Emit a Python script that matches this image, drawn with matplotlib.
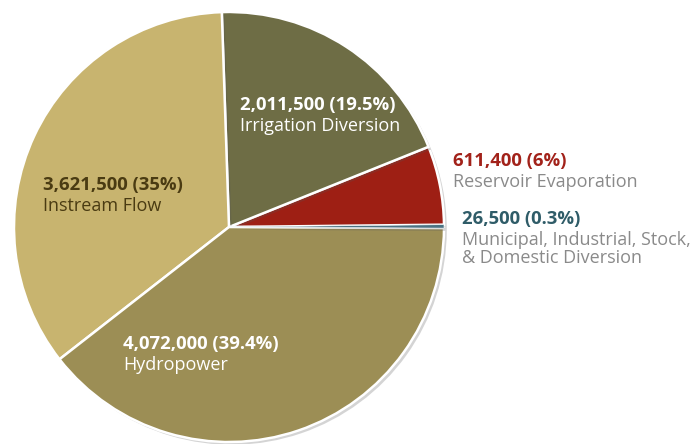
import matplotlib.pyplot as plt
import matplotlib.patheffects as pe

# water use by category, acre-feet
labels = ["Municipal, Industrial, Stock,\n& Domestic Diversion", "Reservoir Evaporation",
          "Irrigation Diversion", "Instream Flow", "Hydropower"]
values = [26500, 611400, 2011500, 3621500, 4072000]
pct_text = ["0.3%", "6%", "19.5%", "35%", "39.4%"]
colors = ["#4B7282", "#9E1F14", "#6E6D45", "#C8B46F", "#9C8E55"]

# label anchor (x, y of first line top, px) and colours for number / name
label_pos = [(462, 210), (453, 152), (240, 96), (43, 176), (123, 335)]
num_colors = ["#2F5C68", "#A2221A", "white", "#4A3B12", "white"]
name_colors = ["#8A8A8A", "#8A8A8A", "white", "#4A3B12", "white"]

W, H = 692, 444
fig = plt.figure(figsize=(W / 100, H / 100), dpi=100)
ax = fig.add_axes([0, 0, 1, 1])

wedges, _ = ax.pie(values, colors=colors, startangle=0.3, counterclock=False,
                   radius=215, center=(229, 227), explode=[0.01] * 5,
                   wedgeprops=dict(edgecolor="white", linewidth=1.8))
for w in wedges:
    w.set_path_effects([pe.SimplePatchShadow(offset=(2, -2), alpha=0.25, shadow_rgbFace="#555555"),
                        pe.Normal()])
# thin slice goes on top so neighbours' shadows don't hide it
wedges[0].set_linewidth(0.4)
wedges[0].set_zorder(3)

ax.set_xlim(0, W)
ax.set_ylim(H, 0)
ax.axis("off")

font = "Open Sans"
for lab, v, p, (x, y), nc, tc in zip(labels, values, pct_text, label_pos, num_colors, name_colors):
    ax.text(x, y, f"{v:,} ({p})", color=nc, fontsize=13.3, fontweight="bold",
            family=font, va="top", ha="left")
    ax.text(x, y + 21, lab, color=tc, fontsize=13, family=font, va="top", ha="left",
            linespacing=0.98)

fig.savefig("out.png", dpi=100)
